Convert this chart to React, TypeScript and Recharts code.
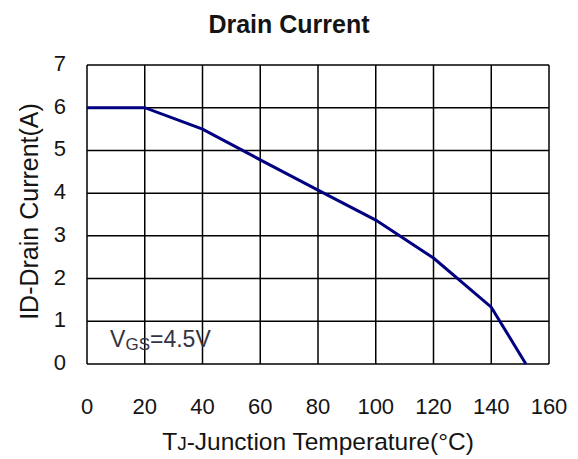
import React from 'react';
import { LineChart, Line, XAxis, YAxis, CartesianGrid, Label, ReferenceDot } from 'recharts';

const temperatures = [0, 20, 40, 60, 80, 100, 120, 140, 152];
const drainCurrents = [6, 6, 5.5, 4.78, 4.07, 3.37, 2.48, 1.33, 0];
const xTicks = [0, 20, 40, 60, 80, 100, 120, 140, 160];
const yTicks = [0, 1, 2, 3, 4, 5, 6, 7];

const chartData = temperatures.map((t, i) => ({ temp: t, current: drainCurrents[i] }));

const FONT = '"Liberation Sans", Arial, sans-serif';
const TEXT_COLOR = '#141414';

const XTick = (props: any) => {
  const { x, y, payload } = props;
  return (
    <text x={x} y={y + 42} textAnchor="middle" fontSize={22} fontFamily={FONT} fill={TEXT_COLOR}>
      {payload.value}
    </text>
  );
};

const YTick = (props: any) => {
  const { y, payload } = props;
  return (
    <text x={66} y={y + 6} textAnchor="end" fontSize={22} fontFamily={FONT} fill={TEXT_COLOR}>
      {payload.value}
    </text>
  );
};

const VgsNote = (props: any) => {
  const { cx, cy } = props;
  return (
    <text x={cx} y={cy} fontSize={23} fontFamily={FONT} fill="#333344">
      V<tspan fontSize={17} dy={3}>GS</tspan>
      <tspan dy={-3}>=4.5V</tspan>
    </text>
  );
};

const App: React.FC = () => {
  return (
    <div style={{ position: 'absolute', left: 0, top: 0, width: 578, height: 459, background: '#fff' }}>
      <div
        style={{
          position: 'absolute',
          top: 12,
          left: 0,
          width: 578,
          textAlign: 'center',
          fontFamily: FONT,
          fontWeight: 'bold',
          fontSize: 25,
          lineHeight: '25px',
          color: TEXT_COLOR,
        }}
      >
        Drain Current
      </div>
      <LineChart width={578} height={459} data={chartData} margin={{ top: 65, right: 29, left: 0, bottom: 0 }}>
        <CartesianGrid stroke="#000" strokeWidth={1.5} horizontalValues={yTicks} verticalValues={xTicks} />
        <XAxis
          dataKey="temp"
          type="number"
          domain={[0, 160]}
          ticks={xTicks}
          height={95}
          axisLine={false}
          tickLine={false}
          tick={<XTick />}
          interval={0}
        >
          <Label
            content={(p: any) => {
              const vb = p.viewBox;
              return (
                <text x={vb.x + vb.width / 2} y={vb.y + 86} textAnchor="middle" fontSize={24.5} fontFamily={FONT} fill={TEXT_COLOR}>
                  T<tspan fontSize={19}>J</tspan>-Junction Temperature(°C)
                </text>
              );
            }}
          />
        </XAxis>
        <YAxis
          type="number"
          domain={[0, 7]}
          ticks={yTicks}
          width={87}
          axisLine={false}
          tickLine={false}
          tick={<YTick />}
          interval={0}
        >
          <Label
            content={(p: any) => {
              const vb = p.viewBox;
              const cx = 29;
              const cy = vb.y + vb.height / 2 - 3;
              return (
                <text
                  x={cx}
                  y={cy}
                  transform={`rotate(-90 ${cx} ${cy})`}
                  textAnchor="middle"
                  dominantBaseline="central"
                  fontSize={25}
                  fontFamily={FONT}
                  fill={TEXT_COLOR}
                >
                  ID-Drain Current(A)
                </text>
              );
            }}
          />
        </YAxis>
        <Line
          type="linear"
          dataKey="current"
          stroke="#000080"
          strokeWidth={3}
          dot={false}
          isAnimationActive={false}
        />
        <ReferenceDot x={8} y={0.4} r={0} shape={<VgsNote />} />
      </LineChart>
    </div>
  );
};

export default App;
